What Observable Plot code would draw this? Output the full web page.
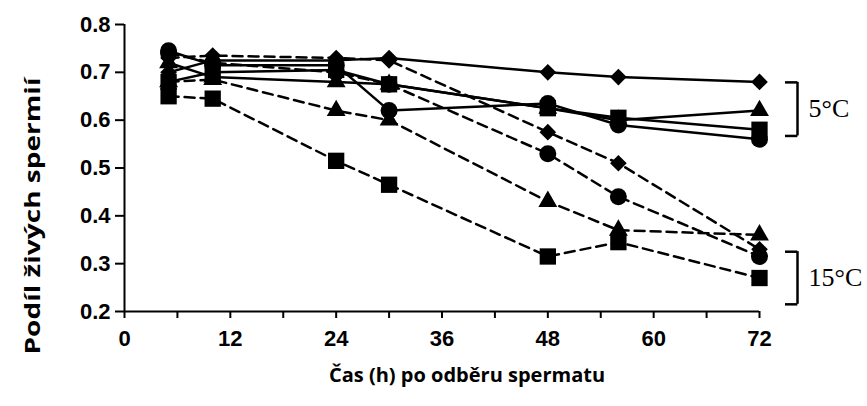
<!DOCTYPE html>
<html><head><meta charset="utf-8">
<script src="https://cdn.jsdelivr.net/npm/d3@7"></script>
<script src="https://cdn.jsdelivr.net/npm/@observablehq/plot@0.6"></script>
<style>body{margin:0;background:#fff}</style>
</head><body><div id="chart"></div>
<script>
// Hours after sperm collection
const times = [5, 10, 24, 30, 48, 56, 72];

// 5 °C (solid lines)
const diamond5  = [0.700, 0.725, 0.725, 0.730, 0.700, 0.690, 0.680];
const circle5   = [0.745, 0.715, 0.715, 0.620, 0.635, 0.590, 0.560];
const square5   = [0.680, 0.700, 0.705, 0.675, 0.625, 0.605, 0.580];
const triangle5 = [0.720, 0.690, 0.680, 0.675, 0.625, 0.600, 0.620];

// 15 °C (dashed lines)
const diamond15  = [0.730, 0.735, 0.730, 0.725, 0.575, 0.510, 0.330];
const circle15   = [0.740, 0.720, 0.700, 0.675, 0.530, 0.440, 0.315];
const triangle15 = [0.680, 0.685, 0.620, 0.600, 0.430, 0.370, 0.360];
const square15   = [0.650, 0.645, 0.515, 0.465, 0.315, 0.345, 0.270];

const xTicks = [0, 6, 12, 18, 24, 30, 36, 42, 48, 54, 60, 66, 72];
const xTickLabels = [0, 12, 24, 36, 48, 60, 72];
const yTicks = [0.2, 0.3, 0.4, 0.5, 0.6, 0.7, 0.8];

const bracketLabels = ["5°C", "15°C"];
const bracketLow  = [0.567, 0.215];
const bracketHigh = [0.679, 0.325];

const xLabel = "Čas (h) po odběru spermatu";
const yLabel = "Podíl živých spermií";

const series = [
  {id: "d5", shape: "diamond", temp: "5°C", values: diamond5},
  {id: "c5", shape: "circle", temp: "5°C", values: circle5},
  {id: "s5", shape: "square", temp: "5°C", values: square5},
  {id: "t5", shape: "triangle", temp: "5°C", values: triangle5},
  {id: "d15", shape: "diamond", temp: "15°C", values: diamond15},
  {id: "c15", shape: "circle", temp: "15°C", values: circle15},
  {id: "t15", shape: "triangle", temp: "15°C", values: triangle15},
  {id: "s15", shape: "square", temp: "15°C", values: square15}
];
const rows = series.flatMap(s => s.values.map((v, i) => ({t: times[i], v, id: s.id, shape: s.shape, temp: s.temp})));
const brackets = bracketLabels.map((label, i) => ({label, lo: bracketLow[i], hi: bracketHigh[i], mid: (bracketLow[i] + bracketHigh[i]) / 2}));
const bracketEnds = brackets.flatMap(b => [{v: b.lo}, {v: b.hi}]);
const lastT = times[times.length - 1];
const bracketTick = 1.4; // bracket arm length, in hours

// marker glyph and size for each shape
const markerStyle = {
  diamond: {symbol: "diamond2", r: 7.5},
  circle: {symbol: "circle", r: 8.5},
  triangle: {symbol: "triangle", r: 7},
  square: {symbol: "square", r: 9.2}
};

const chart = Plot.plot({
  width: 867,
  height: 406,
  marginLeft: 124,
  marginRight: 108,
  marginTop: 24,
  marginBottom: 95,
  style: {fontFamily: "Liberation Sans, Arial, sans-serif", background: "#fff", color: "#000"},
  x: {domain: [0, 72]},
  y: {domain: [0.2, 0.8]},
  marks: [
    Plot.ruleX([0], {strokeWidth: 2}),
    Plot.ruleY([0.2], {strokeWidth: 2}),
    Plot.axisX({ticks: xTicks, tickFormat: d => xTickLabels.includes(d) ? String(d) : "", tickSize: 7, tickPadding: 12, strokeWidth: 2, fontSize: 22, fontWeight: "bold", label: null}),
    Plot.axisY({ticks: yTicks, tickFormat: d3.format(".1f"), tickSize: 9, tickPadding: 5, strokeWidth: 2, fontSize: 22, fontWeight: "bold", label: null}),
    Plot.line(rows.filter(d => d.temp === "5°C"), {x: "t", y: "v", z: "id", stroke: "#000", strokeWidth: 2.5}),
    Plot.line(rows.filter(d => d.temp === "15°C"), {x: "t", y: "v", z: "id", stroke: "#000", strokeWidth: 2.5, strokeDasharray: "10,6"}),
    ...Object.entries(markerStyle).map(([shape, m]) =>
      Plot.dot(rows.filter(d => d.shape === shape), {x: "t", y: "v", symbol: m.symbol, r: m.r, fill: "#000", stroke: "none"})),
    Plot.ruleX(brackets, {x: () => lastT, y1: "lo", y2: "hi", dx: 38, strokeWidth: 2.5}),
    Plot.ruleY(bracketEnds, {y: "v", x1: lastT, x2: lastT + bracketTick, dx: 26, strokeWidth: 2.5}),
    Plot.text(brackets, {x: () => lastT, y: "mid", text: "label", dx: 49, textAnchor: "start", fontFamily: "Liberation Serif, Times New Roman, serif", fontSize: 26, fill: "#000"}),
    Plot.text([xLabel], {frameAnchor: "bottom", dx: 25, dy: 70, fontFamily: "Open Sans, sans-serif", fontWeight: "bold", fontSize: 20, fill: "#000"}),
    Plot.text([yLabel], {frameAnchor: "left", textAnchor: "middle", rotate: -90, dx: -91, dy: 48, fontFamily: "Open Sans, sans-serif", fontWeight: "bold", fontSize: 21, fill: "#000", className: "ylabel"})
  ]
});
// stretch the y label along its length to match the reference proportions
d3.select(chart).selectAll(".ylabel text").attr("textLength", 277).attr("lengthAdjust", "spacingAndGlyphs");
document.getElementById("chart").appendChild(chart);
</script>
</body></html>
